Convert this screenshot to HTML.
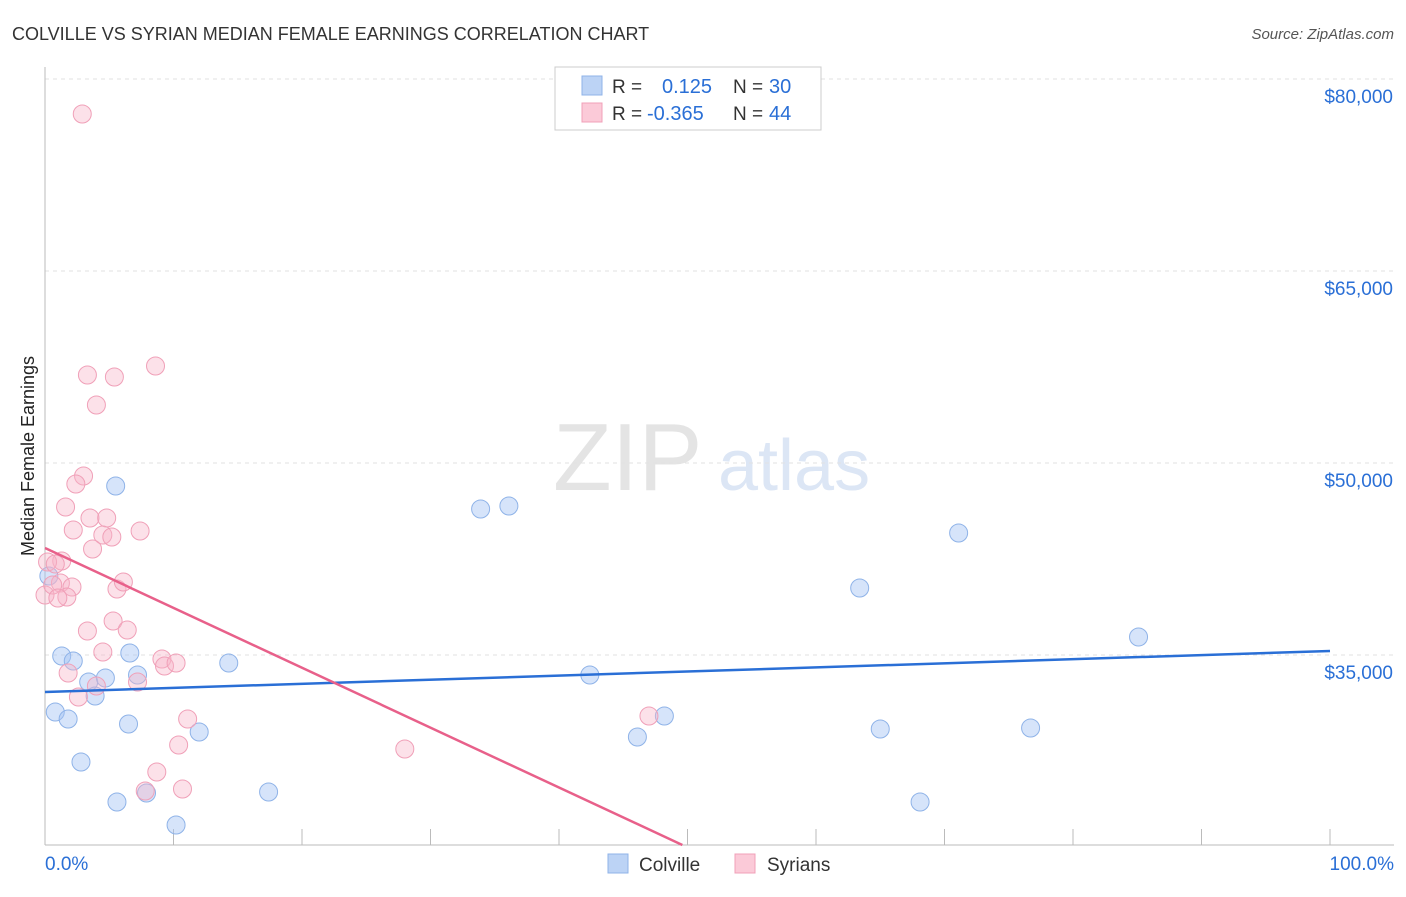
<!DOCTYPE html>
<html><head><meta charset="utf-8"><style>
body{margin:0;background:#fff;font-family:"Liberation Sans",sans-serif;}
svg text{font-family:"Liberation Sans",sans-serif;}
</style></head><body>
<svg id="chart" width="1406" height="892">
<text x="12" y="40" font-size="18" fill="#333">COLVILLE VS SYRIAN MEDIAN FEMALE EARNINGS CORRELATION CHART</text>
<text x="1394" y="39" font-size="15" fill="#555" text-anchor="end" font-style="italic">Source: ZipAtlas.com</text>
<text x="34" y="456" font-size="18" fill="#222" text-anchor="middle" transform="rotate(-90 34 456)">Median Female Earnings</text>
<g><text x="553" y="490" font-size="96" fill="#e4e4e4" font-family="Liberation Serif,serif">ZIP</text><text x="718" y="490" font-size="72" fill="#dce6f5">atlas</text></g>
<g id="grid"></g><g id="axes"></g><g id="marks"></g>
<g>
<rect x="555" y="67" width="266" height="63" fill="#fff" stroke="#ccc"/>
<rect x="582" y="76" width="20" height="19" fill="#bcd3f5" stroke="#8fb3e8"/>
<rect x="582" y="103" width="20" height="19" fill="#fbcad8" stroke="#f0a0b8"/>
<text x="612" y="93" font-size="19" fill="#333">R =</text><text x="662" y="93" font-size="20" fill="#2a6fd6">0.125</text>
<text x="733" y="93" font-size="19" fill="#333">N =</text><text x="769" y="93" font-size="20" fill="#2a6fd6">30</text>
<text x="612" y="120" font-size="19" fill="#333">R =</text><text x="647" y="120" font-size="20" fill="#2a6fd6">-0.365</text>
<text x="733" y="120" font-size="19" fill="#333">N =</text><text x="769" y="120" font-size="20" fill="#2a6fd6">44</text>
</g>
<g>
<rect x="608" y="854" width="20" height="19" fill="#bcd3f5" stroke="#8fb3e8"/><text x="639" y="871" font-size="19" fill="#333">Colville</text>
<rect x="735" y="854" width="20" height="19" fill="#fbcad8" stroke="#f0a0b8"/><text x="767" y="871" font-size="19" fill="#333">Syrians</text>
</g>
</svg>
<script>
const yTicks=[80000,65000,50000,35000];
const yTickLabels=["$80,000","$65,000","$50,000","$35,000"];
const xTickLabels=["0.0%","100.0%"];
const colvilleX=[0.3,0.8,1.3,1.8,2.2,2.8,3.4,3.9,4.7,5.5,5.6,6.5,6.6,7.2,7.9,10.2,12.0,14.3,17.4,33.9,36.1,42.4,46.1,48.2,63.4,65.0,68.1,71.1,76.7,85.1];
const colvilleY=[41172,30547,34922,30000,34531,26641,32891,31797,33203,48203,23516,29609,35156,33437,24219,21719,28984,34375,24297,46406,46641,33437,28594,30234,40234,29219,23516,44531,29297,36406];
const syriansX=[2.9,8.6,3.3,5.4,4.0,3.0,2.4,1.6,3.5,4.8,2.2,7.4,4.5,5.2,3.7,1.3,0.2,0.8,1.2,2.1,5.6,6.1,1.7,0.0,5.3,3.3,6.4,4.5,9.1,9.3,10.2,1.8,7.2,4.0,2.6,11.1,47.0,10.4,28.0,8.7,7.8,10.7,0.6,1.0];
const syriansY=[77266,57578,56875,56719,54531,48984,48359,46562,45703,45703,44766,44688,44375,44219,43281,42344,42266,42109,40625,40313,40156,40703,39531,39688,37656,36875,36953,35234,34688,34141,34375,33594,32891,32578,31719,30000,30234,27969,27656,25859,24375,24531,40469,39453];
const colvilleTrend=[32109,35313];
const syriansTrend=[43359,-467.8];
const NS="http://www.w3.org/2000/svg";
const X0=45,X1=1330,YB=845;
function xs(p){return X0+(X1-X0)*p/100;}
function ys(v){return 79+(80000-v)*0.0128;}
const vMin=80000-(YB-79)/0.0128;
function mk(tag,attrs,parent){const e=document.createElementNS(NS,tag);for(const k in attrs)e.setAttribute(k,attrs[k]);document.getElementById(parent).appendChild(e);return e;}
yTicks.forEach((v,i)=>{
 const g=mk('line',{x1:X0,x2:1394,y1:ys(v),y2:ys(v),stroke:'#e2e2e2','stroke-dasharray':'4,4'},'grid');
 
 
 const t=mk('text',{x:1393,y:ys(v)+24,'font-size':19,fill:'#2a6fd6','text-anchor':'end'},'axes');
 t.textContent=yTickLabels[i];
 
 
});
const ya=mk('line',{x1:X0,x2:X0,y1:67,y2:YB,stroke:'#bbb'},'axes');


const xa=mk('line',{x1:X0,x2:1394,y1:YB,y2:YB,stroke:'#bbb'},'axes');


for(let i=0;i<=10;i++){
 const t=mk('line',{x1:xs(i*10),x2:xs(i*10),y1:YB,y2:YB-16,stroke:'#bbb'},'axes');
 
 
}
[[0,'start',X0],[100,'end',1394]].forEach((d,i)=>{
 const t=mk('text',{x:d[2],y:870,'font-size':19,fill:'#2a6fd6','text-anchor':d[1]},'axes');
 t.textContent=xTickLabels[i];
 
 
});
colvilleX.forEach((x,i)=>{
 const c=mk('circle',{cx:xs(x),cy:ys(colvilleY[i]),r:9,fill:'rgba(164,196,244,0.45)',stroke:'#8fb3e8','stroke-width':1},'marks');
 
 
});
syriansX.forEach((x,i)=>{
 const c=mk('circle',{cx:xs(x),cy:ys(syriansY[i]),r:9,fill:'rgba(248,180,200,0.4)',stroke:'#f0a0b8','stroke-width':1},'marks');
 
 
});
const bl=mk('line',{x1:xs(0),y1:ys(colvilleTrend[0]),x2:xs(100),y2:ys(colvilleTrend[1]),stroke:'#2a6fd6','stroke-width':2.5},'marks');


const pEnd=Math.min(100,(vMin-syriansTrend[0])/syriansTrend[1]);
const pl=mk('line',{x1:xs(0),y1:ys(syriansTrend[0]),x2:xs(pEnd),y2:ys(syriansTrend[0]+syriansTrend[1]*pEnd),stroke:'#e8608a','stroke-width':2.5},'marks');


</script>
</body></html>
